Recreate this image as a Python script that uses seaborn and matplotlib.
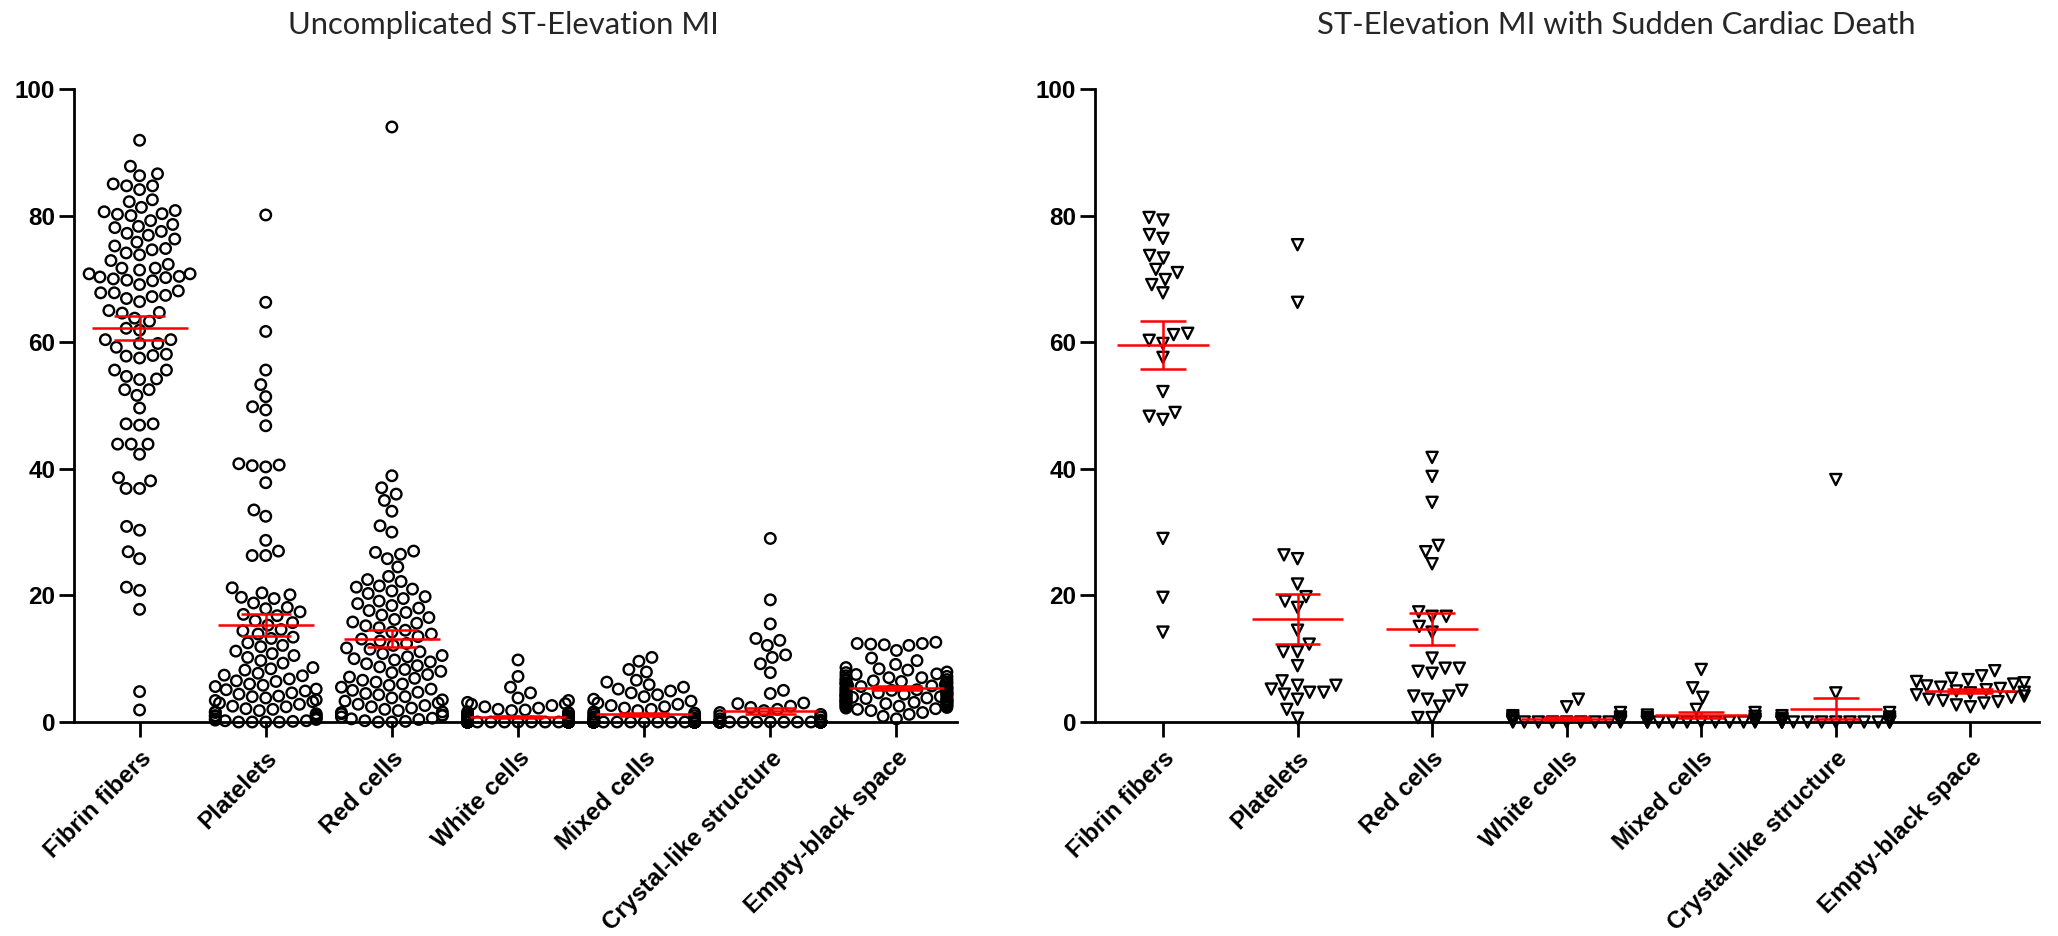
import numpy as np
import pandas as pd
import matplotlib
matplotlib.use("Agg")
import matplotlib.pyplot as plt
import seaborn as sns

categories = ["Fibrin fibers", "Platelets", "Red cells", "White cells",
              "Mixed cells", "Crystal-like structure", "Empty-black space"]

title_left = "Uncomplicated ST-Elevation MI"
title_right = "ST-Elevation MI with Sudden Cardiac Death"
y_ticks = [0, 20, 40, 60, 80, 100]

# ---------------- Left panel (uncomplicated STEMI) ----------------
left_fibrin = [91.9, 87.8, 86.6, 86.3, 85.0, 84.7, 84.7, 84.1, 82.5, 82.2, 81.3, 80.8,
               80.3, 80.0, 80.2, 80.6, 79.2, 78.6, 78.3, 78.1, 77.5, 77.2, 76.9, 76.3,
               75.8, 74.8, 75.2, 74.6, 74.1, 73.8, 72.9, 72.3, 71.7, 71.7, 71.4, 70.8,
               70.4, 70.8, 70.3, 70.0, 70.2, 69.7, 69.8, 69.1, 68.1, 67.8, 67.2, 67.4,
               67.8, 66.9, 66.4, 64.7, 65.0, 64.6, 63.8, 63.3, 62.2, 61.9, 60.4, 60.4,
               59.8, 59.8, 59.2, 58.1, 57.9, 57.8, 57.5, 55.6, 55.6, 54.2, 54.1, 54.6,
               52.5, 52.5, 51.6, 49.6, 47.1, 46.9, 47.1, 43.9, 43.9, 42.3, 43.9, 38.1,
               36.9, 36.9, 38.6, 30.9, 30.3, 25.8, 26.9, 21.3, 20.8, 17.8, 4.8, 1.9]
left_platelets = [80.1, 66.3, 61.7, 55.6, 53.3, 51.4, 49.8, 49.3, 46.8, 40.8, 40.6, 40.5,
                  40.3, 37.8, 33.5, 32.5, 28.7, 27.0, 26.3, 26.3,
                  21.2, 20.4, 20.1, 19.7, 19.5, 18.8, 18.1, 17.9, 17.4, 17.0, 16.8, 16.0,
                  15.7, 15.3, 14.6, 14.4, 13.9, 13.4, 13.2, 12.5, 12.1, 11.9, 11.2, 10.8,
                  10.5, 10.2,
                  9.7, 9.3, 8.6, 8.4, 8.2, 7.7, 7.4, 7.3, 6.8, 6.5, 6.4, 6.0, 5.8, 5.6,
                  5.2, 5.1, 4.9, 4.6, 4.4, 4.1, 4.0, 3.8, 3.5, 3.4, 3.2, 3.0, 2.8, 2.5,
                  2.4, 2.1, 2.0, 1.8, 1.6, 1.5, 1.3, 1.1, 1.0, 0.9, 0.7, 0.7, 0.5, 0.4,
                  0.3, 0.2, 0.2, 0.1, 0.0, 0.0, 0.0, 0.0]
left_red = [94.0, 38.9, 37.0, 36.0, 35.0, 33.3, 31.0, 30.0, 27.0, 26.8, 26.5, 25.8,
            24.5, 23.0, 22.5, 22.2, 21.5, 21.3, 21.0, 20.7, 20.3,
            19.8, 19.5, 19.1, 18.7, 18.4, 18.0, 17.6, 17.3, 16.9, 16.5, 16.2, 15.8,
            15.6, 15.2, 14.9, 14.5, 14.2, 13.9, 13.5, 13.1, 12.8, 12.4, 12.1, 11.7,
            11.5, 11.1, 10.8, 10.5, 10.3, 10.0,
            9.8, 9.5, 9.2, 8.9, 8.7, 8.3, 8.0, 7.8, 7.5, 7.1, 6.9, 6.6, 6.3, 6.0,
            5.8, 5.5, 5.2, 5.0, 4.7, 4.5, 4.3, 4.0, 3.8, 3.5, 3.3, 3.0, 2.8, 2.6,
            2.4, 2.2, 2.0, 1.8, 1.6, 1.5, 1.3, 1.1, 1.0, 0.8, 0.6, 0.5, 0.4, 0.2,
            0.1, 0.0, 0.0]
left_white = [9.8, 7.2, 5.5, 4.6, 3.8, 3.4, 3.1, 2.9, 2.8, 2.6, 2.4, 2.2, 2.0, 1.9,
              1.8, 1.6, 1.5, 1.4, 1.2, 1.0, 1.0, 0.9, 0.8, 0.7, 0.6, 0.5, 0.5, 0.4,
              0.3, 0.3, 0.2, 0.2, 0.1, 0.1] + [0.0] * 62
left_mixed = [10.2, 9.6, 8.3, 7.9, 6.6, 6.3, 5.9, 5.5, 5.2, 4.9, 4.6, 4.3, 4.0, 3.6,
              3.3, 3.0, 2.8, 2.6, 2.4, 2.2, 2.0, 1.8, 1.6, 1.4, 1.2, 1.0, 0.8, 0.6,
              0.5, 0.4, 0.3, 0.2] + [0.0] * 64
left_crystal = [29.0, 19.3, 15.5, 13.2, 12.9, 12.1, 10.6, 10.2, 9.2, 7.8, 5.0, 4.5,
                3.0, 2.9, 2.5, 2.3, 2.0, 1.8, 1.5, 1.2, 1.0, 0.8, 0.5, 0.3] + [0.0] * 72
left_empty = [12.6, 12.4, 12.4, 12.3, 12.2, 12.1, 11.3, 10.1, 9.7, 9.1, 8.6, 8.4, 8.2,
              7.9, 7.8, 7.6, 7.5, 7.3, 7.2, 7.0, 7.0, 6.8, 6.7, 6.6, 6.5, 6.4, 6.3,
              6.2, 6.1, 6.0, 6.0, 5.9, 5.8, 5.7, 5.6, 5.5, 5.5, 5.4, 5.3, 5.2, 5.1,
              5.0, 5.0, 4.9, 4.8, 4.7, 4.6, 4.5, 4.5, 4.4, 4.3, 4.2, 4.1, 4.0, 4.0,
              3.9, 3.8, 3.7, 3.6, 3.5, 3.5, 3.4, 3.3, 3.2, 3.1, 3.0, 3.0, 2.9, 2.8,
              2.7, 2.6, 2.5, 2.4, 2.3, 2.1, 2.0, 1.8, 1.5, 1.2, 0.9, 0.5, 3.6, 3.9,
              4.2, 2.6, 3.1, 4.4, 3.3, 2.2]

# ---------------- Right panel (STEMI with sudden cardiac death) ----------------
right_fibrin = [79.7, 79.3, 77.0, 76.4, 73.7, 73.3, 71.5, 71.0, 69.9, 69.1, 67.8, 61.4,
                61.2, 60.3, 59.8, 57.6, 52.2, 48.9, 48.3, 47.8, 29.0, 19.7, 14.2]
right_platelets = [75.4, 66.3, 26.4, 25.8, 21.8, 19.8, 19.1, 18.1, 14.5, 12.3, 11.1,
                   11.1, 8.9, 6.5, 5.8, 5.8, 4.7, 4.4, 4.7, 5.2, 3.6, 2.0, 0.6]
right_red = [41.8, 38.8, 34.7, 27.9, 26.9, 25.0, 17.4, 16.7, 16.7, 15.1, 14.2, 10.1,
             8.5, 7.7, 8.0, 8.5, 5.0, 4.1, 3.6, 4.1, 2.5, 0.7, 0.7]
right_white = [3.6, 2.4, 1.5, 1.0, 0.8, 0.7, 0.6, 0.5, 0.4, 0.3, 0.2, 0.2, 0.1, 0.1,
               0.0, 0.0, 0.0, 0.0, 0.0, 0.0, 0.0, 0.0, 0.0]
right_mixed = [8.3, 5.4, 3.9, 2.0, 1.5, 1.1, 0.9, 0.7, 0.5, 0.4, 0.3, 0.2, 0.1,
               0.0, 0.0, 0.0, 0.0, 0.0, 0.0, 0.0, 0.0, 0.0, 0.0]
right_crystal = [38.3, 4.6, 1.5, 1.0, 0.8, 0.6, 0.5, 0.4, 0.3, 0.2, 0.1,
                 0.0, 0.0, 0.0, 0.0, 0.0, 0.0, 0.0, 0.0, 0.0, 0.0, 0.0, 0.0]
right_empty = [8.1, 7.3, 6.9, 6.7, 6.4, 6.2, 6.0, 5.7, 5.5, 5.3, 5.1, 4.9, 4.7, 4.6,
               4.3, 4.1, 3.9, 3.6, 3.4, 3.2, 3.0, 2.7, 2.4]

left_data = [left_fibrin, left_platelets, left_red, left_white, left_mixed,
             left_crystal, left_empty]
right_data = [right_fibrin, right_platelets, right_red, right_white, right_mixed,
              right_crystal, right_empty]

sns.set_theme(style="ticks")
plt.rcParams["font.family"] = ["Liberation Sans", "DejaVu Sans"]

W, H = 2058, 936
fig = plt.figure(figsize=(W / 100, H / 100), dpi=100)
fig.patch.set_facecolor("white")

y_bot, y_top = 722, 89
axL = fig.add_axes([74 / W, 1 - y_bot / H, (957 - 74) / W, (y_bot - y_top) / H])
axR = fig.add_axes([1095 / W, 1 - y_bot / H, (2039 - 1095) / W, (y_bot - y_top) / H])


def draw_panel(ax, data, marker, size, mean_half, cap_half, xlim):
    df = pd.DataFrame([(c, v) for c, vals in zip(categories, data) for v in vals],
                      columns=["cat", "val"])
    sns.swarmplot(data=df, x="cat", y="val", order=categories, ax=ax,
                  marker=marker, size=size, color="black", warn_thresh=1.0)
    for coll in ax.collections:
        coll.set_facecolor("none")
        coll.set_edgecolor("black")
        coll.set_linewidth(1.7)
        coll.set_clip_on(False)
        coll.set_zorder(3)
    for i, vals in enumerate(data):
        v = np.asarray(vals, dtype=float)
        m = v.mean()
        se = v.std(ddof=1) / np.sqrt(len(v))
        kw = dict(color="#ff0000", lw=1.8, zorder=5, clip_on=False)
        ax.hlines(m, i - mean_half, i + mean_half, **kw)
        ax.hlines([m - se, m + se], i - cap_half, i + cap_half, **kw)
        ax.vlines(i, m - se, m + se, **kw)
    ax.set_xlim(*xlim)
    ax.set_ylim(0, 100)
    ax.set_yticks(y_ticks)
    ax.set_xlabel("")
    ax.set_ylabel("")
    for s in ["top", "right"]:
        ax.spines[s].set_visible(False)
    for s in ["left", "bottom"]:
        ax.spines[s].set_linewidth(2.0)
        ax.spines[s].set_color("black")
    ax.tick_params(axis="y", length=10.5, width=2.0, labelsize=17.5, pad=3,
                   colors="black")
    ax.tick_params(axis="x", length=10.5, width=2.0, pad=7, colors="black")
    for lab in ax.get_yticklabels():
        lab.set_fontweight("bold")
    ax.set_xticks(range(len(categories)))
    ax.set_xticklabels(categories, rotation=45, ha="right", rotation_mode="anchor",
                       fontweight="bold", fontsize=17.5)
    ax.set_facecolor("white")


draw_panel(axL, left_data, "o", 7.6, 0.38, 0.2, (-0.52, 6.48))
draw_panel(axR, right_data, "v", 8.0, 0.34, 0.17, (-0.505, 6.51))

fig.text(503 / W, 1 - 25 / H, title_left, ha="center", va="center",
         fontsize=22.3, family=["Lato", "DejaVu Sans"])
fig.text(1616 / W, 1 - 25 / H, title_right, ha="center", va="center",
         fontsize=22.3, family=["Lato", "DejaVu Sans"])

fig.savefig("out.png", dpi=100, facecolor="white")
